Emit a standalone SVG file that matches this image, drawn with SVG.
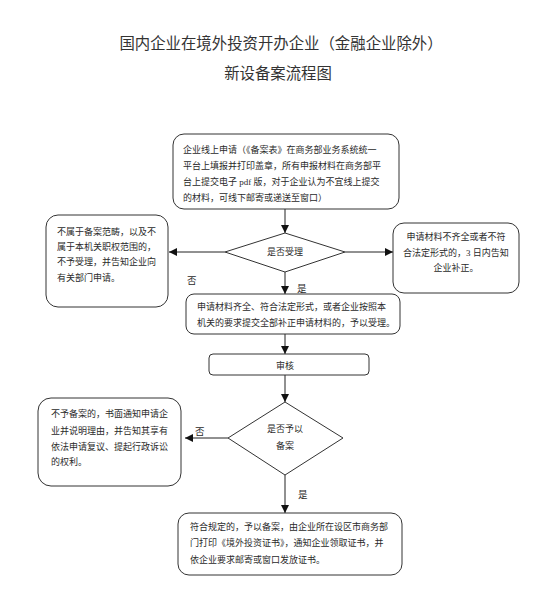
<svg xmlns="http://www.w3.org/2000/svg" width="553" height="608" viewBox="0 0 553 608">
<style>
.bg{fill:#fff}
.box{fill:#fff;stroke:#333;stroke-width:1}
.t{font-family:"Liberation Serif","Noto Sans CJK SC",serif;font-size:9px;fill:#2a2a2a}
.title{font-family:"Liberation Serif","Noto Sans CJK SC",serif;font-size:15.4px;fill:#333;text-anchor:middle}
.lbl{font-family:"Liberation Serif","Noto Sans CJK SC",serif;font-size:9.5px;fill:#2a2a2a}
.c{text-anchor:middle}
.ln{stroke:#222;stroke-width:1;fill:none}
</style>
<defs>
<marker id="ah" viewBox="0 0 8 8" refX="8" refY="4" markerWidth="8" markerHeight="8" markerUnits="userSpaceOnUse" orient="auto">
<path d="M0,0 L8,4 L0,8 z" fill="#111"/>
</marker>
</defs>
<rect class="bg" width="553" height="608"/>
<g id="title">
<text class="title" x="281" y="49">国内企业在境外投资开办企业（金融企业除外）</text>
<text class="title" x="278" y="79">新设备案流程图</text>
</g>
<g id="connectors">
<line class="ln" x1="285" y1="209" x2="285" y2="233" marker-end="url(#ah)"/>
<line class="ln" x1="225" y1="252" x2="169" y2="252" marker-end="url(#ah)"/>
<line class="ln" x1="345" y1="252" x2="393" y2="252" marker-end="url(#ah)"/>
<line class="ln" x1="285" y1="272" x2="285" y2="294" marker-end="url(#ah)"/>
<line class="ln" x1="285" y1="334" x2="285" y2="354" marker-end="url(#ah)"/>
<line class="ln" x1="285" y1="375" x2="285" y2="402" marker-end="url(#ah)"/>
<line class="ln" x1="228" y1="438" x2="185" y2="438" marker-end="url(#ah)"/>
<line class="ln" x1="285" y1="475" x2="285" y2="513" marker-end="url(#ah)"/>
<text class="lbl" x="187" y="284">否</text>
<text class="lbl" x="297" y="292">是</text>
<text class="lbl" x="195" y="435">否</text>
<text class="lbl" x="298" y="498">是</text>
</g>
<g id="n1">
<rect class="box" x="173" y="134" width="226" height="75" rx="11"/>
<text class="t" x="183" y="153">企业线上申请（《备案表》在商务部业务系统统一</text>
<text class="t" x="183" y="168.5">平台上填报并打印盖章，所有申报材料在商务部平</text>
<text class="t" x="183" y="185">台上提交电子 pdf 版，对于企业认为不宜线上提交</text>
<text class="t" x="183" y="200.5">的材料，可线下邮寄或递送至窗口）</text>
</g>
<g id="d1">
<polygon class="box" points="285,233 345,252 285,272 225,252"/>
<text class="t c" x="285" y="255">是否受理</text>
</g>
<g id="n2">
<rect class="box" x="46" y="215" width="122" height="92" rx="12"/>
<text class="t" x="57" y="235">不属于备案范畴，以及不</text>
<text class="t" x="57" y="249.5">属于本机关职权范围的，</text>
<text class="t" x="57" y="265">不予受理，并告知企业向</text>
<text class="t" x="57" y="280.5">有关部门申请。</text>
</g>
<g id="n3">
<rect class="box" x="393" y="223" width="126" height="70" rx="11"/>
<text class="t c" x="456" y="240">申请材料不齐全或者不符</text>
<text class="t c" x="456" y="256">合法定形式的，3 日内告知</text>
<text class="t c" x="456" y="271">企业补正。</text>
</g>
<g id="n4">
<rect class="box" x="186" y="294" width="214" height="40" rx="8"/>
<text class="t" x="197" y="310">申请材料齐全、符合法定形式，或者企业按照本</text>
<text class="t" x="197" y="325.5">机关的要求提交全部补正申请材料的，予以受理。</text>
</g>
<g id="n5">
<rect class="box" x="209" y="354" width="160" height="21" rx="4"/>
<text class="t c" x="285" y="368.5">审核</text>
</g>
<g id="d2">
<polygon class="box" points="285,402 343,438 285,475 228,438"/>
<text class="t c" x="285" y="432">是否予以</text>
<text class="t c" x="285" y="449">备案</text>
</g>
<g id="n6">
<rect class="box" x="38" y="398" width="143" height="88" rx="13"/>
<text class="t" x="51" y="417">不予备案的，书面通知申请企</text>
<text class="t" x="51" y="434">业并说明理由，并告知其享有</text>
<text class="t" x="51" y="449.5">依法申请复议、提起行政诉讼</text>
<text class="t" x="51" y="465">的权利。</text>
</g>
<g id="n7">
<rect class="box" x="178" y="513" width="224" height="62" rx="11"/>
<text class="t" x="190" y="530">符合规定的，予以备案，由企业所在设区市商务部</text>
<text class="t" x="190" y="546">门打印《境外投资证书》，通知企业领取证书，并</text>
<text class="t" x="190" y="563">依企业要求邮寄或窗口发放证书。</text>
</g>
</svg>
